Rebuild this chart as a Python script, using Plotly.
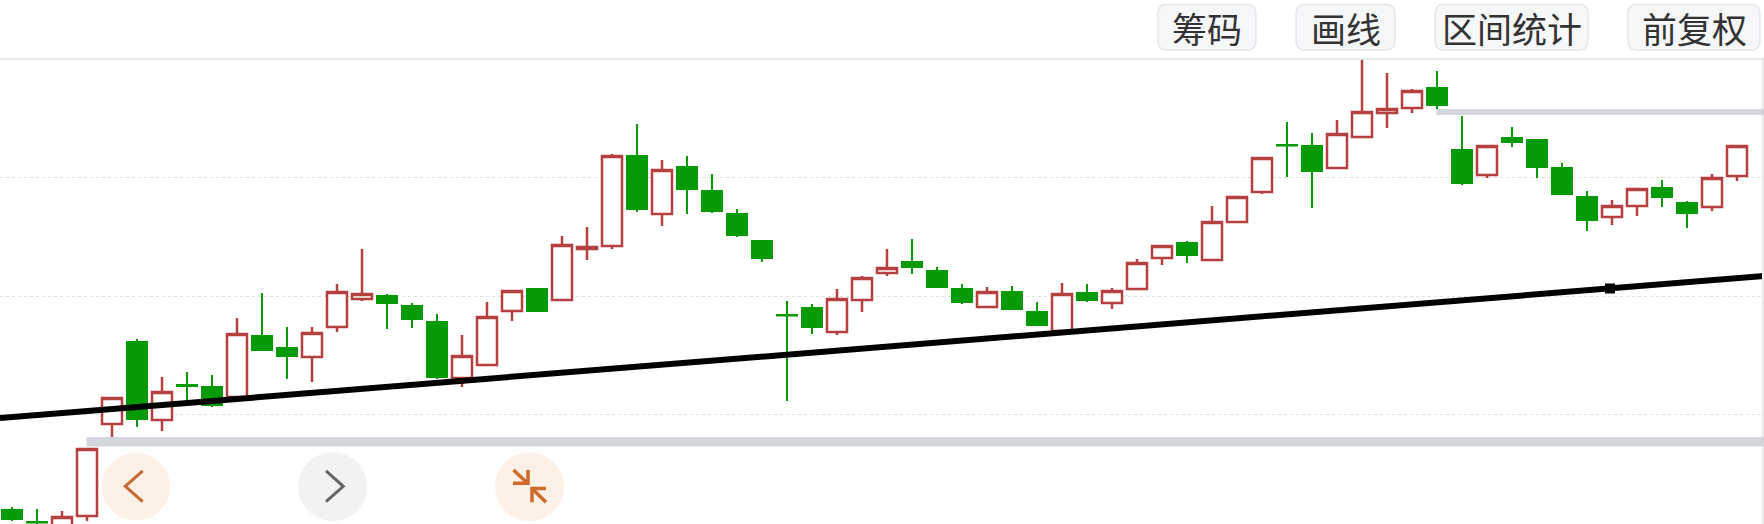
import plotly.graph_objects as go

W, H = 1764, 524

# candle order, no dates are visible in the picture
candle_no = list(range(70))

highs = [10.17, 10.15, 10.13, 10.76, 11.27, 11.85, 11.47, 11.52, 11.49, 12.06,
         12.31, 11.97, 11.97, 12.40, 12.75, 12.30, 12.21, 12.10, 11.89, 12.22,
         12.34, 12.36, 12.88, 12.97, 13.70, 14.00, 13.64, 13.68, 13.50, 13.15,
         12.84, 12.23, 12.20, 12.35, 12.48, 12.75, 12.85, 12.57, 12.40, 12.37,
         12.38, 12.22, 12.41, 12.40, 12.36, 12.65, 12.79, 12.83, 13.18, 13.28,
         13.665, 14.02, 13.91, 14.04, 14.84, 14.51, 14.35, 14.53, 14.08, 13.79,
         13.97, 13.85, 13.61, 13.33, 13.24, 13.35, 13.44, 13.23, 13.50, 13.79]
lows = [10.03, 9.94, 9.92, 10.03, 10.87, 10.97, 10.93, 11.24, 11.17, 11.26,
        11.73, 11.45, 11.42, 11.92, 12.23, 11.95, 11.96, 11.45, 11.37, 11.58,
        12.03, 12.12, 12.23, 12.64, 12.75, 13.12, 12.98, 13.10, 13.11, 12.87,
        12.62, 11.23, 11.90, 11.89, 12.12, 12.48, 12.50, 12.36, 12.20, 12.165,
        12.14, 11.98, 11.92, 12.22, 12.15, 12.34, 12.59, 12.61, 12.64, 13.02,
        13.30, 13.47, 13.16, 13.56, 13.86, 13.96, 14.11, 14.15, 13.39, 13.46,
        13.77, 13.46, 13.30, 12.93, 12.99, 13.08, 13.17, 12.96, 13.13, 13.43]
opens = [10.14, 10.02, 9.98, 10.08, 11.00, 11.82, 11.04, 11.39, 11.37, 11.27,
         11.88, 11.76, 11.67, 11.97, 12.25, 12.28, 12.18, 12.02, 11.46, 11.59,
         12.13, 12.35, 12.24, 12.75, 12.78, 13.68, 13.10, 13.57, 13.33, 13.10,
         12.83, 12.09, 12.16, 11.92, 12.24, 12.51, 12.62, 12.53, 12.35, 12.17,
         12.32, 12.12, 11.93, 12.31, 12.21, 12.35, 12.66, 12.81, 12.64, 13.02,
         13.32, 13.79, 13.78, 13.56, 13.87, 14.11, 14.16, 14.36, 13.74, 13.49,
         13.86, 13.84, 13.56, 13.27, 13.07, 13.18, 13.36, 13.21, 13.17, 13.48]
closes = [10.05, 10.015, 10.07, 10.75, 11.26, 11.05, 11.32, 11.38, 11.19, 11.90,
          11.74, 11.68, 11.91, 12.32, 12.30, 12.21, 12.05, 11.47, 11.68, 12.07,
          12.33, 12.13, 12.79, 12.77, 13.68, 13.15, 13.54, 13.35, 13.13, 12.89,
          12.66, 12.085, 11.97, 12.25, 12.46, 12.56, 12.57, 12.37, 12.22, 12.32,
          12.15, 11.99, 12.30, 12.24, 12.33, 12.61, 12.78, 12.69, 13.02, 13.27,
          13.66, 13.785, 13.53, 13.90, 14.12, 14.15, 14.33, 14.19, 13.41, 13.78,
          13.82, 13.57, 13.30, 13.04, 13.18, 13.35, 13.27, 13.11, 13.46, 13.78]

# hand drawn trend line and its handle
trend_x = [-0.48, 70.08]
trend_y = [11.06, 12.48]
handle_x = [63.92]
handle_y = [12.355]

grid_levels = [11.095, 12.28, 13.465]
button_labels = ['筹码', '画线', '区间统计', '前复权']

RED = '#b5403f'
GREEN = '#079a07'


def px(x):
    return x / W


def py(y):
    return 1 - y / H


fig = go.Figure()

fig.add_trace(go.Candlestick(
    x=candle_no, open=opens, high=highs, low=lows, close=closes,
    whiskerwidth=0,
    increasing=dict(line=dict(color=RED, width=2.5), fillcolor='#ffffff'),
    decreasing=dict(line=dict(color=GREEN, width=2), fillcolor=GREEN),
    showlegend=False, hoverinfo='skip'))

fig.add_trace(go.Scatter(x=trend_x, y=trend_y, mode='lines',
                         line=dict(color='#000000', width=6),
                         showlegend=False, hoverinfo='skip'))
fig.add_trace(go.Scatter(x=handle_x, y=handle_y, mode='markers',
                         marker=dict(symbol='square', size=10, color='#000000'),
                         showlegend=False, hoverinfo='skip'))

shapes = []


def pixel_rect(x0, y0, x1, y1, fill, line='rgba(0,0,0,0)', lw=0):
    shapes.append(dict(type='rect', xref='paper', yref='paper',
                       x0=px(x0), x1=px(x1), y0=py(y0), y1=py(y1),
                       fillcolor=fill, line=dict(color=line, width=lw), layer='above'))


def pixel_poly(points, color, lw):
    d = 'M ' + ' L '.join('%.5f,%.5f' % (px(a), py(b)) for a, b in points)
    shapes.append(dict(type='path', xref='paper', yref='paper', path=d,
                       line=dict(color=color, width=lw), layer='above'))


def round_box(x0, y0, x1, y1, r=9):
    pts = ('M %.5f,%.5f L %.5f,%.5f Q %.5f,%.5f %.5f,%.5f L %.5f,%.5f Q %.5f,%.5f %.5f,%.5f '
           'L %.5f,%.5f Q %.5f,%.5f %.5f,%.5f L %.5f,%.5f Q %.5f,%.5f %.5f,%.5f Z') % (
        px(x0 + r), py(y0), px(x1 - r), py(y0), px(x1), py(y0), px(x1), py(y0 + r),
        px(x1), py(y1 - r), px(x1), py(y1), px(x1 - r), py(y1),
        px(x0 + r), py(y1), px(x0), py(y1), px(x0), py(y1 - r),
        px(x0), py(y0 + r), px(x0), py(y0), px(x0 + r), py(y0))
    shapes.append(dict(type='path', xref='paper', yref='paper', path=pts,
                       fillcolor='#f6f7f9', line=dict(color='#e4e6ea', width=1.5), layer='above'))


def circle(cx, cy, r, fill):
    shapes.append(dict(type='circle', xref='paper', yref='paper',
                       x0=px(cx - r), x1=px(cx + r), y0=py(cy - r), y1=py(cy + r),
                       fillcolor=fill, line=dict(width=0), layer='above'))


# frame of the chart
pixel_rect(-2, 59, 1763, 530, 'rgba(0,0,0,0)', '#e8e8e8', 2)

# grey price bands
pixel_rect(86.5, 437, 1766, 446.5, '#d3d6db')
pixel_rect(1436.5, 109, 1766, 115, '#d3d6db')

# round buttons under the chart
circle(136, 486.7, 34, '#fdf0e7')
pixel_poly([(142.7, 471), (125.3, 486.3), (142.7, 501.7)], '#c9692f', 3)
circle(332.7, 486.7, 34.5, '#f2f2f2')
pixel_poly([(326, 471), (343.3, 486.3), (326, 501.7)], '#666666', 3)
circle(529.5, 486.7, 34.5, '#fdf0e7')
pixel_poly([(513.5, 470), (527.5, 483.3)], '#cf6a2a', 3.5)
pixel_poly([(513, 483.3), (528, 483.3), (528, 470)], '#cf6a2a', 3.5)
pixel_poly([(546, 502.3), (532.5, 489)], '#cf6a2a', 3.5)
pixel_poly([(546, 488.5), (532, 488.5), (532, 502.3)], '#cf6a2a', 3.5)

# top buttons
button_spans = [(1158, 1256), (1296, 1395), (1435, 1588), (1628, 1760)]
annotations = []
for label, (a, b) in zip(button_labels, button_spans):
    round_box(a, 4.5, b, 50)
    annotations.append(dict(text=label, xref='paper', yref='paper',
                            x=px((a + b) / 2), y=py(27), showarrow=False,
                            xanchor='center', yanchor='middle',
                            font=dict(family='Noto Sans CJK SC', size=35, color='#333333')))

fig.update_layout(
    width=W, height=H,
    margin=dict(l=0, r=0, t=0, b=0),
    paper_bgcolor='#ffffff', plot_bgcolor='#ffffff',
    boxgap=0.2, boxgroupgap=0,
    shapes=shapes, annotations=annotations,
    xaxis=dict(range=[-0.48, 70.08], showgrid=False, showticklabels=False,
               ticks='', zeroline=False, rangeslider=dict(visible=False)),
    yaxis=dict(domain=[0, 465 / 524], range=[10.00, 14.65], tickvals=grid_levels,
               showticklabels=False, ticks='', zeroline=False,
               showgrid=True, gridcolor='#dedede', griddash='dot', gridwidth=1),
)

fig.write_html("out.html", config={'displayModeBar': False},
               post_script="document.body.style.margin='0';document.body.style.overflow='hidden';")
